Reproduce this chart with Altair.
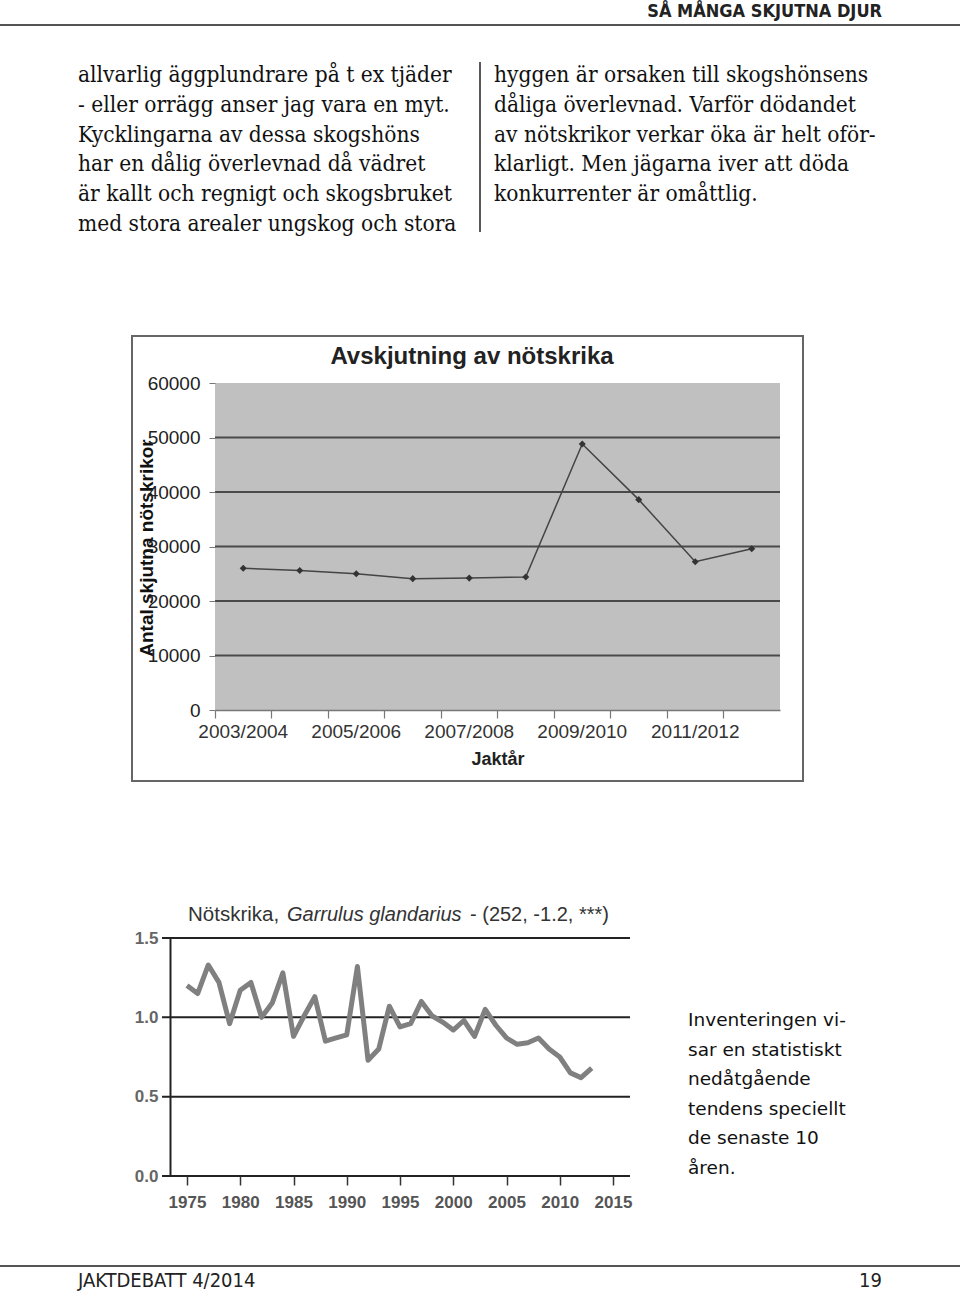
import json
import altair as alt
import pandas as pd

W, H = 960, 1292

# ---------------- page texts ----------------
header_text = "SÅ MÅNGA SKJUTNA DJUR"
left_col = [
    "allvarlig äggplundrare på t ex tjäder",
    "- eller orrägg anser jag vara en myt.",
    "Kycklingarna av dessa skogshöns",
    "har en dålig överlevnad då vädret",
    "är kallt och regnigt och skogsbruket",
    "med stora arealer ungskog och stora",
]
right_col = [
    "hyggen är orsaken till skogshönsens",
    "dåliga överlevnad. Varför dödandet",
    "av nötskrikor verkar öka är helt oför-",
    "klarligt. Men jägarna iver att döda",
    "konkurrenter är omåttlig.",
]
side_text = [
    "Inventeringen vi-",
    "sar en statistiskt",
    "nedåtgående",
    "tendens speciellt",
    "de senaste 10",
    "åren.",
]
footer_left = "JAKTDEBATT 4/2014"
footer_right = "19"

# ---------------- chart 1: hunting bag ----------------
chart1_title = "Avskjutning av nötskrika"
chart1_xtitle = "Jaktår"
chart1_ytitle = "Antal skjutna nötskrikor"
seasons = ["2003/2004", "2004/2005", "2005/2006", "2006/2007", "2007/2008",
           "2008/2009", "2009/2010", "2010/2011", "2011/2012", "2012/2013"]
shot = [26000, 25600, 25000, 24100, 24200, 24400, 48800, 38600, 27200, 29600]
season_labels = ["2003/2004", "2005/2006", "2007/2008", "2009/2010", "2011/2012"]
shot_ticks = [0, 10000, 20000, 30000, 40000, 50000, 60000]
shot_grid = [10000, 20000, 30000, 40000, 50000]

# ---------------- chart 2: survey index ----------------
chart2_title_a = "Nötskrika, "
chart2_title_b = "Garrulus glandarius"
chart2_title_c = "- (252, -1.2, ***)"
years = [1975, 1976, 1977, 1978, 1979, 1980, 1981, 1982, 1983, 1984,
         1985, 1986, 1987, 1988, 1989, 1990, 1991, 1992, 1993, 1994,
         1995, 1996, 1997, 1998, 1999, 2000, 2001, 2002, 2003, 2004,
         2005, 2006, 2007, 2008, 2009, 2010, 2011, 2012, 2013]
index = [1.20, 1.15, 1.33, 1.22, 0.96, 1.17, 1.22, 1.00, 1.09, 1.28,
         0.88, 1.01, 1.13, 0.85, 0.87, 0.89, 1.32, 0.73, 0.80, 1.07,
         0.94, 0.96, 1.10, 1.01, 0.97, 0.92, 0.98, 0.88, 1.05, 0.95,
         0.87, 0.83, 0.84, 0.87, 0.80, 0.75, 0.65, 0.62, 0.68]
year_ticks = [1975, 1980, 1985, 1990, 1995, 2000, 2005, 2010, 2015]
index_ticks = [0.0, 0.5, 1.0, 1.5]

one = alt.Data(values=[{}])
SERIF = "DejaVu Serif Condensed"
SANS = "Liberation Sans"


def text_block(lines, x, y0, dy, font, size, color="#111", weight="normal", style="normal"):
    df = pd.DataFrame({"t": lines, "i": list(range(len(lines)))})
    return alt.Chart(df).mark_text(
        align="left", baseline="middle", font=font, fontSize=size,
        color=color, fontWeight=weight, fontStyle=style,
    ).encode(
        x=alt.value(x),
        y=alt.Y("i:Q", scale=alt.Scale(domain=[0, 1], range=[y0, y0 + dy], nice=False, zero=False), axis=None),
        text="t:N",
    )


def label(txt, x, y, font, size, color="#111", weight="normal", style="normal", align="left", angle=0):
    return alt.Chart(pd.DataFrame({"t": [txt]})).mark_text(
        align=align, baseline="middle", font=font, fontSize=size, color=color,
        fontWeight=weight, fontStyle=style, angle=angle,
    ).encode(x=alt.value(x), y=alt.value(y), text="t:N")


def box(x, x2, y, y2, fill, stroke=None, sw=0):
    kw = dict(fill=fill)
    if stroke:
        kw.update(stroke=stroke, strokeWidth=sw)
    return alt.Chart(one).mark_rect(**kw).encode(
        x=alt.value(x), x2=alt.value(x2), y=alt.value(y), y2=alt.value(y2))


def hline(x, x2, y, color, sw):
    return alt.Chart(one).mark_rule(color=color, strokeWidth=sw).encode(
        x=alt.value(x), x2=alt.value(x2), y=alt.value(y))


def vline(x, y, y2, color, sw):
    return alt.Chart(one).mark_rule(color=color, strokeWidth=sw).encode(
        x=alt.value(x), y=alt.value(y), y2=alt.value(y2))


layers = []

# page furniture
layers.append(label(header_text, 882, 12, "DejaVu Sans Condensed", 18, "#222", "bold", align="right"))
layers.append(hline(0, 960, 25, "#555", 2))
layers.append(text_block(left_col, 78, 75, 29.8, SERIF, 22.5))
layers.append(text_block(right_col, 494, 75, 29.8, SERIF, 22.5))
layers.append(vline(480, 62, 232, "#222", 1.5))
layers.append(text_block(side_text, 688, 1020, 29.5, "DejaVu Sans", 18.5))
layers.append(hline(0, 960, 1266, "#555", 2))
layers.append(label(footer_left, 78, 1281, "DejaVu Sans Condensed", 20, "#222"))
layers.append(label(footer_right, 882, 1281, "DejaVu Sans Condensed", 20, "#222", align="right"))

# ---- chart 1 ----
X1 = [215, 780]
Y1 = [710, 383]
y1_scale = alt.Scale(domain=[0, 60000], range=Y1, nice=False, zero=False)
x1_scale = alt.Scale(type="band", domain=seasons, range=X1, paddingInner=0, paddingOuter=0)

layers.append(box(132, 803, 336, 781, "white", "#666", 2))
layers.append(box(X1[0], X1[1], Y1[1], Y1[0], "#c0c0c0"))
layers.append(
    alt.Chart(pd.DataFrame({"v": shot_grid})).mark_rule(color="#4a4a4a", strokeWidth=2).encode(
        y=alt.Y("v:Q", scale=y1_scale, axis=None), x=alt.value(X1[0]), x2=alt.value(X1[1]))
)
df1 = pd.DataFrame({"season": seasons, "shot": shot})
label_expr = "indexof(" + json.dumps(season_labels) + ", datum.value) >= 0 ? datum.value : ''"
layers.append(
    alt.Chart(df1).mark_line(color="#444", strokeWidth=1.5).encode(
        x=alt.X("season:N", sort=seasons, scale=x1_scale, bandPosition=0.5,
                axis=alt.Axis(orient="bottom", offset=-(H - Y1[0]), labelExpr=label_expr,
                              bandPosition=0, labelOffset=0, labelAngle=0, labelFont=SANS,
                              labelFontSize=19, labelColor="#333", tickColor="#777", tickSize=8,
                              tickWidth=1.2, domainColor="#777", domainWidth=1.5, title=None,
                              labelPadding=4, grid=False, labelOverlap=False, zindex=1)),
        y=alt.Y("shot:Q", scale=y1_scale,
                axis=alt.Axis(orient="left", offset=-X1[0], values=shot_ticks, format="d",
                              labelFont=SANS, labelFontSize=19, labelColor="#222",
                              tickColor="#777", tickSize=6, domain=False, grid=False,
                              title=None, labelPadding=9, labelOverlap=False, zindex=1)),
    )
)
layers.append(
    alt.Chart(df1).mark_point(shape="diamond", size=50, filled=True, color="#333", opacity=1).encode(
        x=alt.X("season:N", sort=seasons, scale=x1_scale, bandPosition=0.5, axis=None),
        y=alt.Y("shot:Q", scale=y1_scale, axis=None),
    )
)
layers.append(label(chart1_title, 472, 357, SANS, 24, "#222", "bold", align="center"))
layers.append(label(chart1_xtitle, 498, 760, SANS, 18, "#222", "bold", align="center"))
layers.append(label(chart1_ytitle, 147, 548, SANS, 19, "#111", "bold", align="center", angle=270))

# ---- chart 2 ----
X2 = [187, 613]
Y2 = [1176, 938]
x2_scale = alt.Scale(domain=[1975, 2015], range=X2, nice=False, zero=False)
y2_scale = alt.Scale(domain=[0, 1.5], range=Y2, nice=False, zero=False)

layers.append(
    alt.Chart(pd.DataFrame({"v": index_ticks})).mark_rule(color="#222", strokeWidth=2).encode(
        y=alt.Y("v:Q", scale=y2_scale, axis=None), x=alt.value(162), x2=alt.value(630))
)
df2 = pd.DataFrame({"year": years, "index": index})
layers.append(
    alt.Chart(df2).mark_line(color="#808080", strokeWidth=5, strokeJoin="round").encode(
        x=alt.X("year:Q", scale=x2_scale,
                axis=alt.Axis(orient="bottom", offset=-(H - Y2[0]), values=year_ticks, format="d",
                              labelFont=SANS, labelFontSize=17, labelFontWeight="bold",
                              labelColor="#555", tickColor="#333", tickSize=9, tickWidth=1.5,
                              domain=False, grid=False, title=None, labelPadding=9,
                              labelOverlap=False, labelFlush=False, zindex=1)),
        y=alt.Y("index:Q", scale=y2_scale,
                axis=alt.Axis(orient="left", offset=-170, values=index_ticks, format=".1f",
                              labelFont=SANS, labelFontSize=17, labelFontWeight="bold",
                              labelColor="#666", ticks=False, domainColor="#222", domainWidth=2,
                              grid=False, title=None, labelPadding=12, labelOverlap=False,
                              zindex=1)),
    )
)
layers.append(label(chart2_title_a, 188, 915, SANS, 20.5, "#333"))
layers.append(label(chart2_title_b, 287, 915, SANS, 20, "#333", style="italic"))
layers.append(label(chart2_title_c, 470, 915, SANS, 20, "#333"))

chart = alt.layer(*layers).resolve_scale(x="independent", y="independent").properties(
    width=W, height=H, padding=0, autosize="none", background="white"
).configure_view(stroke=None)

chart.save("out.html", embed_options={"renderer": "svg", "actions": False})
